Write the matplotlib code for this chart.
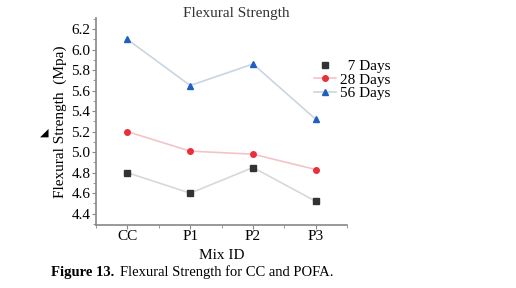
import matplotlib
matplotlib.use("Agg")
import matplotlib.pyplot as plt
from matplotlib.ticker import MultipleLocator
from matplotlib.lines import Line2D

plt.rcParams['font.family'] = ['Liberation Serif', 'DejaVu Sans']

mix_ids = ['CC', 'P1', 'P2', 'P3']
days_7 = [4.80, 4.60, 4.85, 4.52]
days_28 = [5.20, 5.01, 4.98, 4.83]
days_56 = [6.10, 5.65, 5.86, 5.32]

fig = plt.figure(figsize=(5.16, 2.88), dpi=100)
ax = fig.add_axes([0.186, 0.219, 0.487, 0.719])

x = range(len(mix_ids))
ax.plot(x, days_7, color='#d8d8d8', lw=1.2, marker='s', ms=4,
        mfc='#333333', mec='#333333')
ax.plot(x, days_28, color='#f2c4c8', lw=1.2, marker='o', ms=4,
        mfc='#e8303a', mec='#e8303a')
ax.plot(x, days_56, color='#c9d6e0', lw=1.2, marker='^', ms=4.5,
        mfc='#1f5fbf', mec='#1f5fbf')

ax.set_xlim(-0.5, 3.5)
ax.set_ylim(4.29, 6.31)
ax.set_xticks(list(x))
ax.set_xticklabels(mix_ids)
ax.xaxis.set_minor_locator(MultipleLocator(0.5))
ax.yaxis.set_major_locator(MultipleLocator(0.2))
ax.yaxis.set_minor_locator(MultipleLocator(0.1))
ax.yaxis.set_major_formatter(plt.FormatStrFormatter('%.1f'))

for s in ['top', 'right']:
    ax.spines[s].set_visible(False)
for s in ['left', 'bottom']:
    ax.spines[s].set_color('#888888')
    ax.spines[s].set_linewidth(1.2)
ax.tick_params(which='both', color='#888888', labelsize=11, pad=1)
ax.tick_params(which='major', length=3)
ax.tick_params(which='minor', length=2)

ax.set_xlabel('Mix ID', fontsize=11, labelpad=4)
ax.set_ylabel('Flexural Strength  (Mpa)', fontsize=11, labelpad=3)
ax.text(0.56, 1.02, 'Flexural Strength', transform=ax.transAxes, fontsize=11,
        color='#333333', ha='center', va='center')

handles = [
    Line2D([], [], ls='none', marker='s', ms=4, mfc='#333333', mec='#333333'),
    Line2D([], [], color='#f2c4c8', lw=1.2, marker='o', ms=4, mfc='#e8303a', mec='#e8303a'),
    Line2D([], [], color='#c9d6e0', lw=1.2, marker='^', ms=4.5, mfc='#1f5fbf', mec='#1f5fbf'),
]
ax.legend(handles, ['  7 Days', '28 Days', '56 Days'], loc='upper left',
          bbox_to_anchor=(0.845, 0.83), frameon=False,
          fontsize=11, handlelength=1.4, handletextpad=0.3, labelspacing=0.0,
          borderaxespad=0)

fig.text(0.078, 0.53, '\u25e2', fontsize=8, family='DejaVu Sans')
fig.text(0.099, 0.04, 'Figure 13.', fontsize=10.5, fontweight='bold')
fig.text(0.232, 0.04, 'Flexural Strength for CC and POFA.', fontsize=10.5)

fig.savefig('out.png', dpi=100)
